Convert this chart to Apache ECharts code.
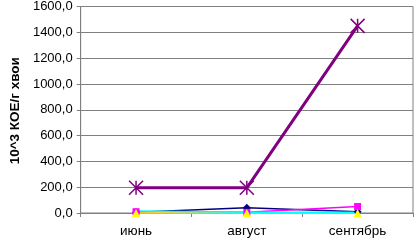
<!DOCTYPE html>
<html><head><meta charset="utf-8">
<script src="https://cdn.jsdelivr.net/npm/echarts@6/dist/echarts.min.js"></script>
<style>html,body{margin:0;padding:0;background:#fff}#c{width:415px;height:241px}</style>
</head><body><div id="c"></div>
<script>
const categories = ['июнь', 'август', 'сентябрь'];
const s1 = [5, 40, 10];
const s2 = [10, 5, 50];
const s3 = [0, 0, 0];
const s4 = [15, 5, 5];
const s5 = [195, 195, 1450];
const yTicks = [0, 200, 400, 600, 800, 1000, 1200, 1400, 1600];

const chart = echarts.init(document.getElementById('c'));
function ser(data, color, symbol, size, width) {
  return { type: 'line', data, symbol, symbolSize: size, showSymbol: true,
    lineStyle: { color, width }, itemStyle: { color }, animation: false };
}
chart.setOption({
  animation: false,
  grid: { left: 76, right: 2, top: 5, bottom: 28, show: true, borderColor: '#808080', borderWidth: 1, backgroundColor: '#fff' },
  xAxis: { type: 'category', data: categories, boundaryGap: true,
    axisLine: { lineStyle: { color: '#808080' } },
    axisTick: { show: true, lineStyle: { color: '#808080' }, length: 4 },
    axisLabel: { color: '#000', fontFamily: 'Arial, Liberation Sans', fontSize: 13.5, margin: 11 } },
  yAxis: { type: 'value', min: yTicks[0], max: yTicks[yTicks.length - 1], interval: yTicks[1] - yTicks[0],
    name: '10^3 КОЕ/г хвои', nameLocation: 'middle', nameGap: 55,
    nameTextStyle: { fontFamily: 'Arial, Liberation Sans', fontWeight: 'bold', fontSize: 13.5, color: '#000', padding: [0, 2, 0, 0] },
    axisLine: { show: true, lineStyle: { color: '#808080' } },
    axisTick: { show: true, inside: false, length: 4, lineStyle: { color: '#808080' } },
    splitLine: { lineStyle: { color: '#808080' } },
    axisLabel: { color: '#000', fontFamily: 'Arial, Liberation Sans', fontSize: 13, margin: 8,
      formatter: v => v.toFixed(1).replace('.', ',') } },
  series: [
    ser(s1, '#000080', 'diamond', 8, 1.5),
    ser(s2, '#FF00FF', 'rect', 7, 1.5),
    ser(s3, '#FFFF00', 'triangle', 8, 1.5),
    ser(s4, '#00FFFF', 'path://M0,0L10,10M10,0L0,10', 8, 1.5),
    Object.assign(ser(s5, '#800080', 'path://M0,0L10,10M10,0L0,10M5,0L5,10', 14, 3),
      { itemStyle: { color: 'none', borderColor: '#800080', borderWidth: 1.5 } })
  ]
});
</script></body></html>
